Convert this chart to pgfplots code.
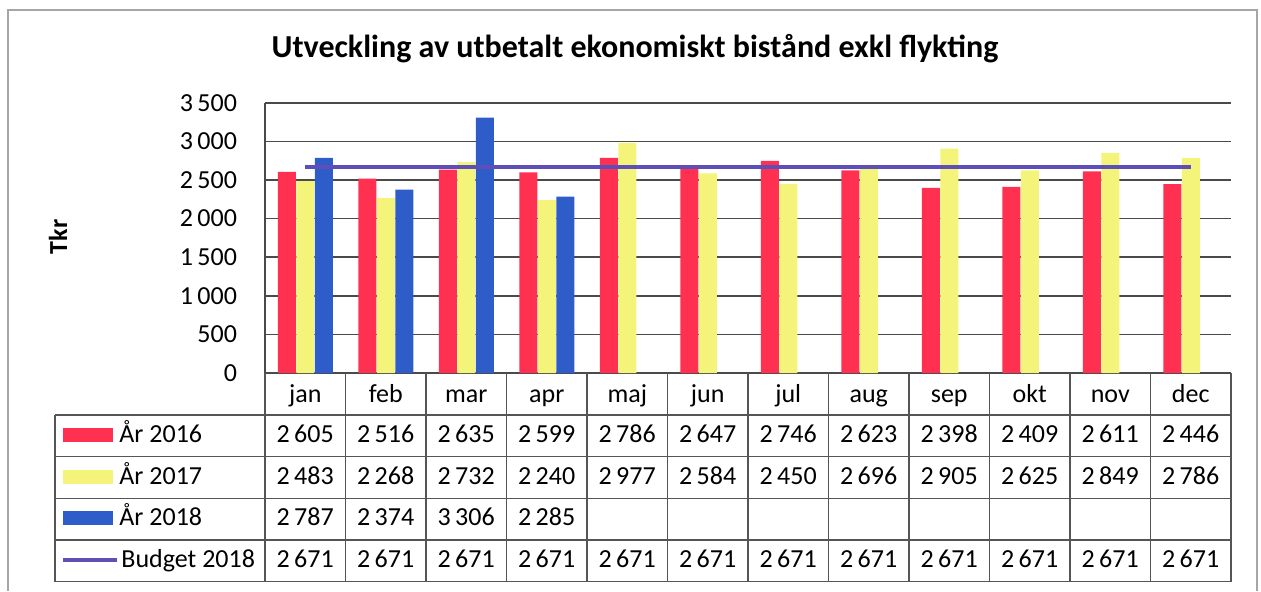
\documentclass[border=0pt]{standalone}
\usepackage{fontspec}
\setmainfont{Carlito}
\usepackage{pgfplots}
\usepackage{pgfplotstable}
\pgfplotsset{compat=1.18}
\definecolor{cRed}{HTML}{FF3050}
\definecolor{cYel}{HTML}{F4F47A}
\definecolor{cBlue}{HTML}{2E5CC8}
\definecolor{cBud}{HTML}{5E4FB8}
\definecolor{cGrid}{HTML}{4A4A4A}
\definecolor{cTbl}{HTML}{555555}

\pgfplotstableread{
m y16 y17 y18 bud
0 2605 2483 2787 2671
1 2516 2268 2374 2671
2 2635 2732 3306 2671
3 2599 2240 2285 2671
4 2786 2977 nan 2671
5 2647 2584 nan 2671
6 2746 2450 nan 2671
7 2623 2696 nan 2671
8 2398 2905 nan 2671
9 2409 2625 nan 2671
10 2611 2849 nan 2671
11 2446 2786 nan 2671
}\data

\pgfkeys{/pgf/number format/.cd,1000 sep={\,},assume math mode=true}

\begin{document}
\fontsize{13}{15}\selectfont
\begin{tikzpicture}
\begin{axis}[
  at={(0,0)}, anchor=south west,
  scale only axis, width=483pt, height=135.15pt,
  xmin=-0.5, xmax=11.5, ymin=0, ymax=3500,
  ytick={0,500,...,3500},
  xtick=\empty,
  axis lines*=left,
  axis line style={cGrid, line width=0.8pt, -},
  ymajorgrids, grid style={cGrid, line width=0.8pt},
  major tick length=0pt,
  yticklabel style={font=\fontsize{13}{15}\selectfont, xshift=-9.5pt},
  clip=false,
]
\addplot[ybar, bar width=9pt, bar shift=-9.25pt, fill=cRed, draw=none] table[x=m,y=y16]{\data};
\addplot[ybar, bar width=9pt, bar shift=0pt, fill=cYel, draw=none] table[x=m,y=y17]{\data};
\addplot[ybar, bar width=9pt, bar shift=9.25pt, fill=cBlue, draw=none] table[x=m,y=y18]{\data};
\addplot[cBud, line width=2pt, no marks] table[x=m,y=bud]{\data};
\end{axis}
\begin{scope}[x=0.5pt,y=-0.5pt,xshift=-132.5pt,yshift=186.5pt]
  \tikzset{tbl/.style={cTbl, line width=0.7pt}}
  % frame
  \draw[gray!70, line width=0.6pt] (8,591) -- (8,10) -- (1257,10) -- (1257,591);
  % title and y label
  \node[anchor=base, font=\fontsize{16}{18}\selectfont\bfseries] at (635,57) {Utveckling av utbetalt ekonomiskt bistånd exkl flykting};
  \node[rotate=90, font=\fontsize{13}{15}\selectfont\bfseries] at (58,237) {Tkr};
  % table grid
  \foreach \yy in {415,456.7,498.3,540,581.7} \draw[tbl] (55,\yy) -- (1231,\yy);
  \draw[tbl] (55,415) -- (55,581.7);
  \foreach \k in {0,...,12} \draw[tbl] ({265+80.5*\k},373) -- ({265+80.5*\k},581.7);
  % months
  \foreach \mm [count=\i from 0] in {jan,feb,mar,apr,maj,jun,jul,aug,sep,okt,nov,dec}
    \node[anchor=base, inner sep=0pt] at ({305.25+80.5*\i},402) {\mm};
  % legend keys
  \fill[cRed] (63,428) rectangle (113,442);
  \fill[cYel] (63,470) rectangle (113,484);
  \fill[cBlue] (63,511) rectangle (113,525);
  \draw[cBud, line width=2pt] (63,560) -- (117,560);
  \node[anchor=base west, inner sep=0pt] at (119,442) {År 2016};
  \node[anchor=base west, inner sep=0pt] at (119,484) {År 2017};
  \node[anchor=base west, inner sep=0pt] at (119,525) {År 2018};
  \node[anchor=base west, inner sep=0pt] at (121,567) {Budget 2018};
  % values
  \foreach \i in {0,...,11}{
    \pgfplotstablegetelem{\i}{y16}\of\data
    \node[anchor=base, inner sep=0pt] at ({305.25+80.5*\i},442) {\pgfmathprintnumber{\pgfplotsretval}};
    \pgfplotstablegetelem{\i}{y17}\of\data
    \node[anchor=base, inner sep=0pt] at ({305.25+80.5*\i},484) {\pgfmathprintnumber{\pgfplotsretval}};
    \pgfplotstablegetelem{\i}{bud}\of\data
    \node[anchor=base, inner sep=0pt] at ({305.25+80.5*\i},567) {\pgfmathprintnumber{\pgfplotsretval}};
  }
  \foreach \i in {0,...,3}{
    \pgfplotstablegetelem{\i}{y18}\of\data
    \node[anchor=base, inner sep=0pt] at ({305.25+80.5*\i},525) {\pgfmathprintnumber{\pgfplotsretval}};
  }
  \pgfresetboundingbox
  \path[use as bounding box] (0,0) rectangle (1261,591);
\end{scope}
\end{tikzpicture}
\end{document}
